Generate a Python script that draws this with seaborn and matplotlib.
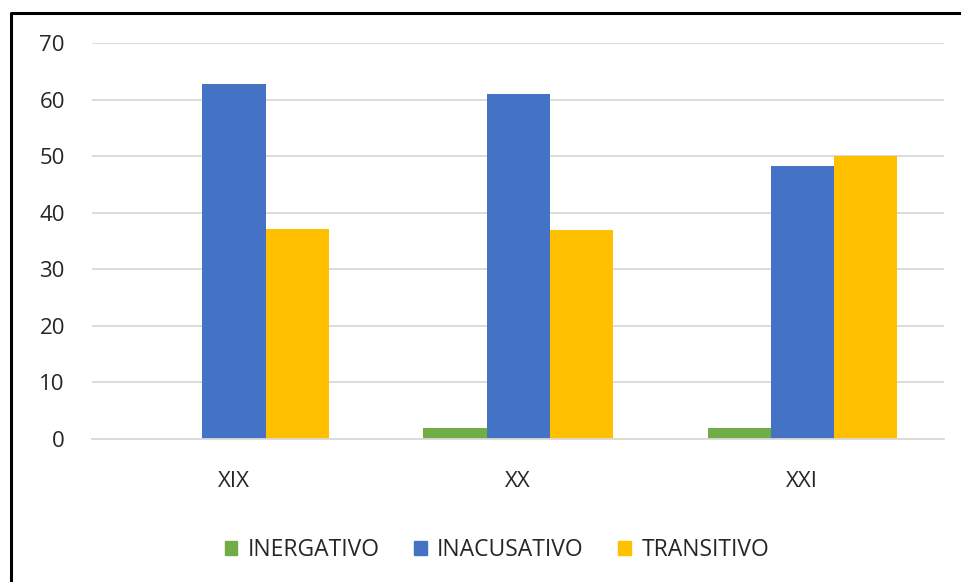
import pandas as pd
import seaborn as sns
import matplotlib.pyplot as plt
from matplotlib.lines import Line2D

centuries = ['XIX', 'XX', 'XXI']
series = ['INERGATIVO', 'INACUSATIVO', 'TRANSITIVO']
inergativo = [0, 1.9, 1.9]
inacusativo = [62.8, 61.0, 48.3]
transitivo = [37.2, 37.0, 50.0]
colors = ['#70AD47', '#4472C4', '#FFC000']

df = pd.DataFrame({
    'siglo': centuries * 3,
    'tipo': [s for s in series for _ in centuries],
    'valor': inergativo + inacusativo + transitivo,
})

sns.set_theme(style='white')
plt.rcParams['font.family'] = ['Open Sans', 'DejaVu Sans']

fig = plt.figure(figsize=(9.61, 5.82), dpi=100)
ax = fig.add_axes([0.0957, 0.2457, 0.887, 0.6804])

sns.barplot(data=df, x='siglo', y='valor', hue='tipo', palette=colors,
            width=0.667, gap=0, saturation=1, linewidth=0, ax=ax, legend=False)

ax.set_ylim(0, 70)
ax.set_yticks(range(0, 71, 10))
ax.yaxis.grid(True, color='#d9d9d9', linewidth=1.3)
ax.set_axisbelow(True)
for side in ['top', 'right', 'left']:
    ax.spines[side].set_visible(False)
ax.spines['bottom'].set_color('#d9d9d9')
ax.spines['bottom'].set_linewidth(1.3)
ax.tick_params(axis='both', length=0, labelsize=16, labelcolor='#262626')
ax.tick_params(axis='y', pad=19.5)
ax.tick_params(axis='x', pad=23)
ax.set_xlabel('')
ax.set_ylabel('')

handles = [plt.Rectangle((0, 0), 1, 1, color=c) for c in colors]
fig.legend(handles, series, loc='center', bbox_to_anchor=(0.517, 0.055),
           ncol=3, frameon=False, fontsize=16.5, handlelength=0.56,
           handleheight=0.56, handletextpad=0.45, columnspacing=1.5,
           labelcolor='#262626')

# chart frame (left and top edges only)
x0 = 11 / 961
y0 = 1 - 13 / 582
fig.add_artist(Line2D([x0, x0, 1], [0, y0, y0], transform=fig.transFigure,
                      color='black', linewidth=2.2))

fig.savefig('out.png', dpi=100)
